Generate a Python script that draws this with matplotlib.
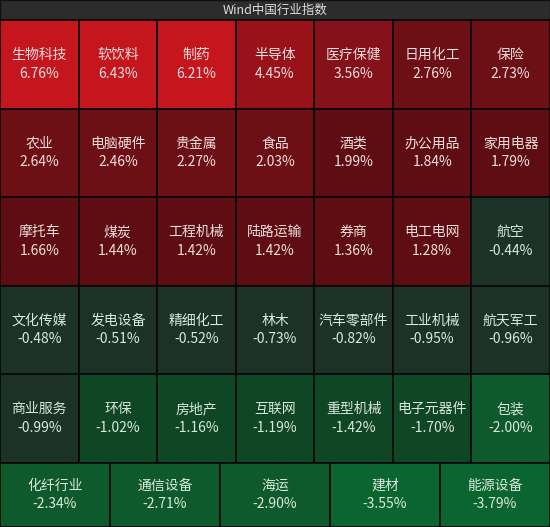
import numpy as np
import matplotlib
matplotlib.use("Agg")
import matplotlib.pyplot as plt
from matplotlib.patches import Rectangle

plt.rcParams['font.family'] = ['Noto Sans CJK SC', 'DejaVu Sans']

# --- data ---
title = "Wind中国行业指数"
names = [
    "生物科技", "软饮料", "制药", "半导体", "医疗保健", "日用化工", "保险",
    "农业", "电脑硬件", "贵金属", "食品", "酒类", "办公用品", "家用电器",
    "摩托车", "煤炭", "工程机械", "陆路运输", "券商", "电工电网", "航空",
    "文化传媒", "发电设备", "精细化工", "林木", "汽车零部件", "工业机械", "航天军工",
    "商业服务", "环保", "房地产", "互联网", "重型机械", "电子元器件", "包装",
    "化纤行业", "通信设备", "海运", "建材", "能源设备",
]
changes = [
    6.76, 6.43, 6.21, 4.45, 3.56, 2.76, 2.73,
    2.64, 2.46, 2.27, 2.03, 1.99, 1.84, 1.79,
    1.66, 1.44, 1.42, 1.42, 1.36, 1.28, -0.44,
    -0.48, -0.51, -0.52, -0.73, -0.82, -0.95, -0.96,
    -0.99, -1.02, -1.16, -1.19, -1.42, -1.70, -2.00,
    -2.34, -2.71, -2.90, -3.55, -3.79,
]

# --- layout / style ---
W, H = 550, 527
title_h = 20
cols_per_row = [7, 7, 7, 7, 7, 5]
row_h = [88.5] * 5 + [H - title_h - 88.5 * 5]

bins = [-np.inf, -3, -2, -1, 0, 1, 2, 3, 4, 5, np.inf]
bin_colors = ['#0b6530', '#0e5a2c', '#0f4624', '#1c3226',
              '#4a0d10', '#5e0e12', '#6d1015', '#85111a', '#9a1219', '#c5161d']


def cell_color(v):
    i = np.searchsorted(bins, v, side='right') - 1
    # -2.00 falls in the -2..-3 band on the source
    if v == bins[i] and v < 0:
        i -= 1
    return bin_colors[i]


fig = plt.figure(figsize=(W / 100, H / 100), dpi=100)
fig.patch.set_facecolor('#0a0a0a')
ax = fig.add_axes([0, 0, 1, 1])
ax.set_xlim(0, W)
ax.set_ylim(H, 0)
ax.axis('off')

# title bar
ax.add_patch(Rectangle((0, 0), W, title_h, facecolor='#2c2c2c', edgecolor='#111111', lw=1))
ax.text(W / 2, title_h / 2 + 0.5, title, color='#dddddd', fontsize=9,
        ha='center', va='center')

k = 0
y = title_h
for r, ncol in enumerate(cols_per_row):
    cw = W / ncol
    h = row_h[r]
    for c in range(ncol):
        v = changes[k]
        x = c * cw
        ax.add_patch(Rectangle((x, y), cw, h, facecolor=cell_color(v),
                               edgecolor='#080808', lw=1.2))
        tc = '#eedede' if v >= 0 else '#dae8dc'
        cy = y + h / 2
        ax.text(x + cw / 2, cy - 9, names[k], color=tc, fontsize=10,
                ha='center', va='center')
        ax.text(x + cw / 2, cy + 9.5, f"{v:.2f}%", color=tc, fontsize=10,
                ha='center', va='center')
        k += 1
    y += h

fig.savefig('out.png', dpi=100, facecolor=fig.get_facecolor())
